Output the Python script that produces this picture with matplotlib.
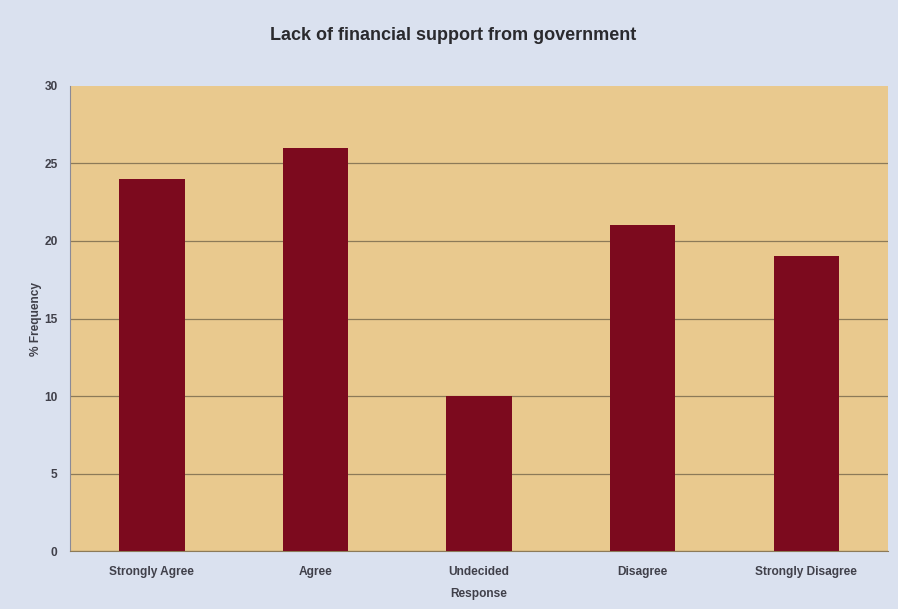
import matplotlib.pyplot as plt
import numpy as np

categories = ["Strongly Agree", "Agree", "Undecided", "Disagree", "Strongly Disagree"]
frequency = [24, 26, 10, 21, 19]
y_ticks = [0, 5, 10, 15, 20, 25, 30]

plt.rcParams["font.family"] = ["Liberation Sans", "DejaVu Sans"]
text_color = "#40404a"

fig = plt.figure(figsize=(8.98, 6.09), dpi=100)
fig.patch.set_facecolor("#dae1ef")
ax = fig.add_axes([0.078, 0.095, 0.911, 0.764])
ax.set_facecolor("#e9c98e")

x = np.arange(len(categories))
ax.bar(x, frequency, width=0.4, color="#7c0a1e", zorder=3)

ax.set_xlim(-0.5, len(categories) - 0.5)
ax.set_ylim(0, 30)
ax.set_yticks(y_ticks)
ax.set_xticks(x)
ax.set_xticklabels(categories)
ax.yaxis.grid(True, color="#8c7a58", linewidth=0.9, zorder=1)
# no gridline along the top edge
ax.get_ygridlines()[-1].set_visible(False)
ax.tick_params(axis="x", labelsize=8.6, colors=text_color, length=0, pad=11)
ax.tick_params(axis="y", labelsize=8.6, colors=text_color, length=0, pad=9)
for lbl in ax.get_xticklabels() + ax.get_yticklabels():
    lbl.set_fontweight("bold")

for side in ["top", "right"]:
    ax.spines[side].set_visible(False)
ax.spines["left"].set_color("#8a8a98")
ax.spines["bottom"].set_color("#8c7a58")

ax.set_xlabel("Response", fontsize=8.6, fontweight="bold", color=text_color, labelpad=7)
ax.set_ylabel("% Frequency", fontsize=8.6, fontweight="bold", color=text_color, labelpad=1.5)
fig.text(0.505, 0.942, "Lack of financial support from government", ha="center",
         va="center", fontsize=13, fontweight="bold", color="#2a2a2e")

fig.savefig("out.png", dpi=100, facecolor=fig.get_facecolor())
